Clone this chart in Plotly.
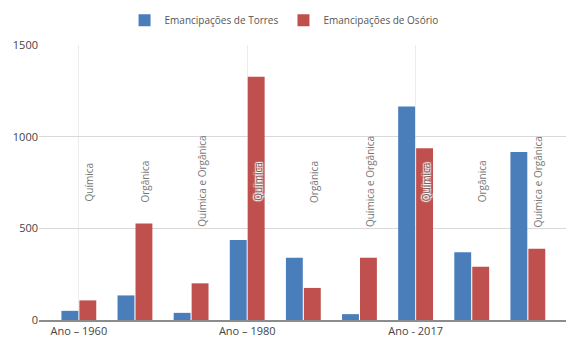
import plotly.graph_objects as go

categories = ["Química", "Orgânica", "Química e Orgânica",
              "Química", "Orgânica", "Química e Orgânica",
              "Química", "Orgânica", "Química e Orgânica"]
year_labels = ["Ano – 1960", "Ano – 1980", "Ano - 2017"]
year_positions = [0, 3, 6]
torres = [50, 134, 39, 437, 339, 32, 1164, 370, 916]
osorio = [107, 527, 200, 1327, 175, 339, 937, 291, 389]
label_highlight = [False, False, False, True, False, False, True, False, False]

x = list(range(len(categories)))
FONT = "Open Sans, Noto Sans, sans-serif"

fig = go.Figure()
fig.add_trace(go.Bar(x=x, y=torres, name="Emancipações de Torres",
                     marker=dict(color="#4a7ebb", line=dict(width=0))))
fig.add_trace(go.Bar(x=x, y=osorio, name="Emancipações de Osório",
                     marker=dict(color="#c0504d", line=dict(width=0))))

for i, (cat, hl) in enumerate(zip(categories, label_highlight)):
    font = dict(family=FONT, size=10, color="#777777")
    if hl:
        font = dict(family=FONT, size=10, color="#666666",
                    shadow="1px 1px 1px white, -1px -1px 1px white, 1px -1px 1px white, -1px 1px 1px white")
    fig.add_annotation(x=i, y=755, xref="x", yref="y", text=cat, textangle=-90,
                       showarrow=False, xshift=10, font=font)

fig.update_layout(
    width=572, height=347,
    margin=dict(l=39, r=6, t=40, b=27),
    paper_bgcolor="white", plot_bgcolor="white",
    barmode="group", bargap=0.36, bargroupgap=0.06,
    font=dict(family=FONT, size=11, color="#444444"),
    legend=dict(orientation="h", x=0.465, xanchor="center", y=1.09, yanchor="middle",
                font=dict(family=FONT, size=10, color="#555555"), itemwidth=30),
    xaxis=dict(range=[-0.71, 8.68], tickmode="array", tickvals=year_positions,
               ticktext=year_labels, showgrid=True, gridcolor="#ececec", gridwidth=1,
               showline=True, linecolor="#8c8c8c", linewidth=1.5, ticks="",
               zeroline=False, tickfont=dict(family=FONT, size=11, color="#444444")),
    yaxis=dict(range=[0, 1500], tickvals=[0, 500, 1000, 1500], showgrid=True,
               gridcolor="#d9d9d9", gridwidth=1, zeroline=False, showline=False,
               ticks="", tickfont=dict(family=FONT, size=11, color="#444444")),
)

fig.write_html("out.html")
